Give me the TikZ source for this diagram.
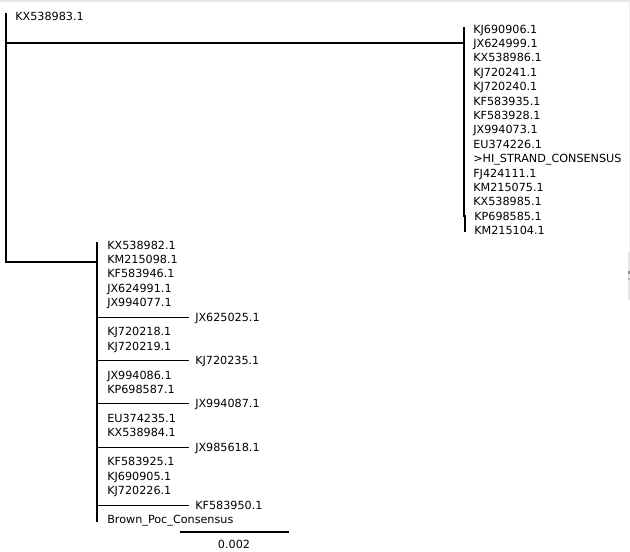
\documentclass[tikz,border=0pt]{standalone}
\usepackage{fontspec}
\setmainfont{DejaVu Sans}
\begin{document}
\begin{tikzpicture}[x=0.75pt,y=-0.75pt,
  leaf/.style={anchor=base west, inner sep=0pt, font=\fontsize{8.4}{10}\selectfont},
  scalelab/.style={anchor=base, inner sep=0pt, font=\fontsize{8.4}{10}\selectfont},
  br/.style={line width=0.8pt, black, line cap=rect}]
\useasboundingbox (0,0) rectangle (630,551);
\fill[white] (0,0) rectangle (630,551);
% screenshot frame artefacts
\fill[black!9] (0,0) rectangle (630,1.5);
\fill[black!6] (628.5,1.5) rectangle (630,252);
\fill[black!10] (627.5,252) rectangle (630,300);
\fill[black!45] (627.5,271) rectangle (630,273.5);
\fill[black!30] (627.5,278) rectangle (630,280);

% root
\coordinate (rtop) at (6,14);
\coordinate (rup) at (6,43);
\coordinate (rlow) at (6,262);
\node[leaf] (kx983) at (15,20) {KX538983.1};
\draw[br] (rtop) -- (rlow);

% upper clade
\coordinate (ujoin) at (464,43);
\coordinate (utop) at (464,28);
\coordinate (ujog) at (464,216);
\coordinate (ujog2) at (465,216);
\coordinate (ubot) at (465,231.5);
\draw[br] (rup) -- (ujoin);
\draw[br] (utop) -- (ujog);
\draw[br] (ujog2) -- (ubot);
\foreach \n [count=\i from 0] in {KJ690906.1,JX624999.1,KX538986.1,KJ720241.1,KJ720240.1,KF583935.1,KF583928.1,JX994073.1,EU374226.1,>HI\_STRAND\_CONSENSUS,FJ424111.1,KM215075.1,KX538985.1}
  \node[leaf] (u\i) at (473,{29+14.4*\i+4}) {\n};
\node[leaf] (u13) at (474,{29+14.4*13+4}) {KP698585.1};
\node[leaf] (u14) at (474,{29+14.4*14+4}) {KM215104.1};

% lower clade
\coordinate (ljoin) at (97,262);
\coordinate (ltop) at (97,243);
\coordinate (lbot) at (97,521);
\draw[br] (rlow) -- (ljoin);
\draw[br] (ltop) -- (lbot);
\foreach \k/\n in {0/KX538982.1,1/KM215098.1,2/KF583946.1,3/JX624991.1,4/JX994077.1,
  6/KJ720218.1,7/KJ720219.1,9/JX994086.1,10/KP698587.1,12/EU374235.1,13/KX538984.1,
  15/KF583925.1,16/KJ690905.1,17/KJ720226.1,19/Brown\_Poc\_Consensus}
  \node[leaf] (l\k) at (107,{245+14.45*\k+4}) {\n};
\foreach \k/\n in {5/JX625025.1,8/KJ720235.1,11/JX994087.1,14/JX985618.1,18/KF583950.1}{
  \coordinate (bs\k) at (97,{245+14.45*\k});
  \coordinate (be\k) at (188,{245+14.45*\k});
  \draw[br] (bs\k) -- (be\k);
  \node[leaf] (l\k) at (195,{245+14.45*\k+4}) {\n};
}

% scale bar
\coordinate (s1) at (181,532);
\coordinate (s2) at (288,532);
\draw[br] (s1) -- (s2);
\node[scalelab] (slab) at (234,548) {0.002};
\end{tikzpicture}
\end{document}
